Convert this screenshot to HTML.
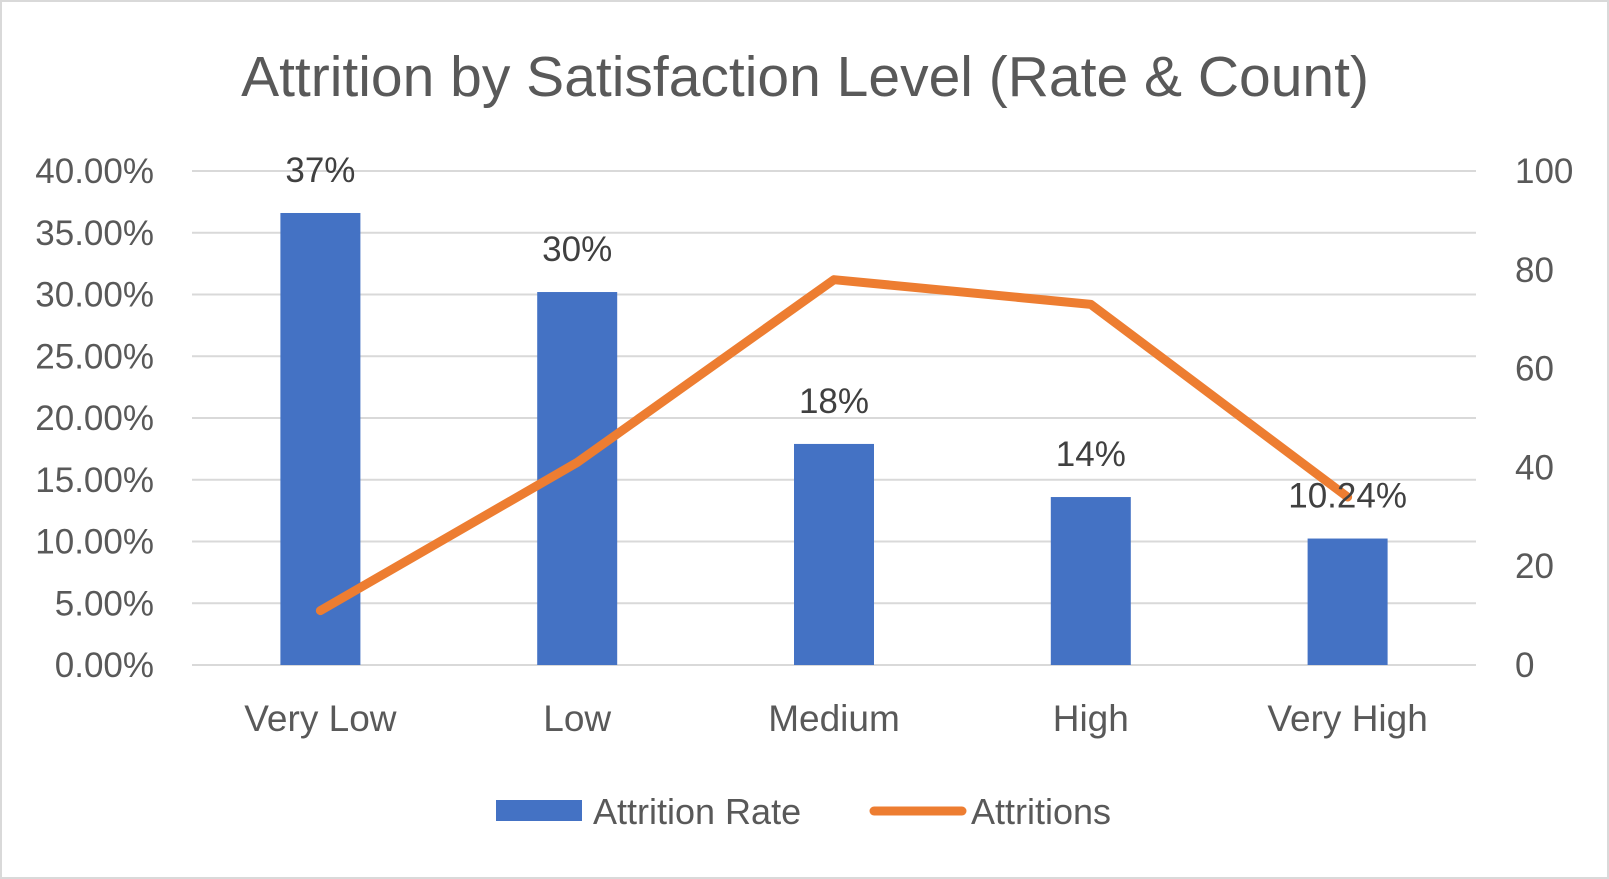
<!DOCTYPE html>
<html><head><meta charset="utf-8"><style>
html,body{margin:0;padding:0;background:#fff;}
svg{display:block;font-family:"Liberation Sans",sans-serif;}
</style></head><body>
<svg id="chart" width="1609" height="879">
<rect x="1" y="1" width="1607" height="877" fill="#fff" stroke="#d9d9d9" stroke-width="2"/>
<text x="805" y="96" text-anchor="middle" font-size="57" fill="#595959">Attrition by Satisfaction Level (Rate &amp; Count)</text>
<g id="grid"></g><g id="bars"></g><g id="line"></g><g id="labels"></g>
<g>
<rect x="496" y="800" width="86" height="21" fill="#4472c4"/>
<text x="593" y="824" font-size="36" fill="#595959">Attrition Rate</text>
<line x1="874" y1="811" x2="962" y2="811" stroke="#ed7d31" stroke-width="9" stroke-linecap="round"/>
<text x="971" y="824" font-size="36" fill="#595959">Attritions</text>
</g>
</svg>
<script>
const categories = ["Very Low","Low","Medium","High","Very High"];
const rates = [0.366, 0.302, 0.179, 0.136, 0.1024];
const rateLabels = ["37%","30%","18%","14%","10.24%"];
const counts = [11, 41, 78, 73, 34];
const leftTicks = [0,0.05,0.10,0.15,0.20,0.25,0.30,0.35,0.40];
const leftTickLabels = ["0.00%","5.00%","10.00%","15.00%","20.00%","25.00%","30.00%","35.00%","40.00%"];
const rightTicks = [0,20,40,60,80,100];

const NS="http://www.w3.org/2000/svg";
const L=192,R=1476,T=171,B=665;
const yL=v=>B-(v/0.40)*(B-T);
const yR=v=>B-(v/100)*(B-T);
const band=(R-L)/categories.length;
const xC=i=>L+band*(i+0.5);
function mk(tag,attrs,parent,txt){const e=document.createElementNS(NS,tag);for(const k in attrs)e.setAttribute(k,attrs[k]);if(txt!==undefined)e.textContent=txt;parent.appendChild(e);return e;}
const grid=document.getElementById('grid'),bars=document.getElementById('bars'),line=document.getElementById('line'),labels=document.getElementById('labels');
leftTicks.forEach((v,i)=>{
  const g=mk('line',{x1:L,x2:R,y1:yL(v),y2:yL(v),stroke:'#d9d9d9','stroke-width':2},grid);
  
  
  const t=mk('text',{x:154,y:yL(v)+12,'text-anchor':'end','font-size':35,fill:'#595959'},grid,leftTickLabels[i]);
  
  
});
rightTicks.forEach(v=>{
  const t=mk('text',{x:1515,y:yR(v)+12,'font-size':35,fill:'#595959'},grid,String(v));
  
  
});
const bw=80;
categories.forEach((c,i)=>{
  const b=mk('rect',{x:xC(i)-bw/2,y:yL(rates[i]),width:bw,height:B-yL(rates[i]),fill:'#4472c4'},bars);
  
  
  const t=mk('text',{x:xC(i),y:yL(rates[i])-31,'text-anchor':'middle','font-size':35,fill:'#404040'},labels,rateLabels[i]);
  
  
  const x=mk('text',{x:xC(i),y:731,'text-anchor':'middle','font-size':37,fill:'#595959'},labels,c);
  
  
});
const pts=counts.map((v,i)=>xC(i)+','+yR(v)).join(' ');
const pl=mk('polyline',{points:pts,fill:'none',stroke:'#ed7d31','stroke-width':9,'stroke-linecap':'round','stroke-linejoin':'round'},line);


</script>
</body></html>
